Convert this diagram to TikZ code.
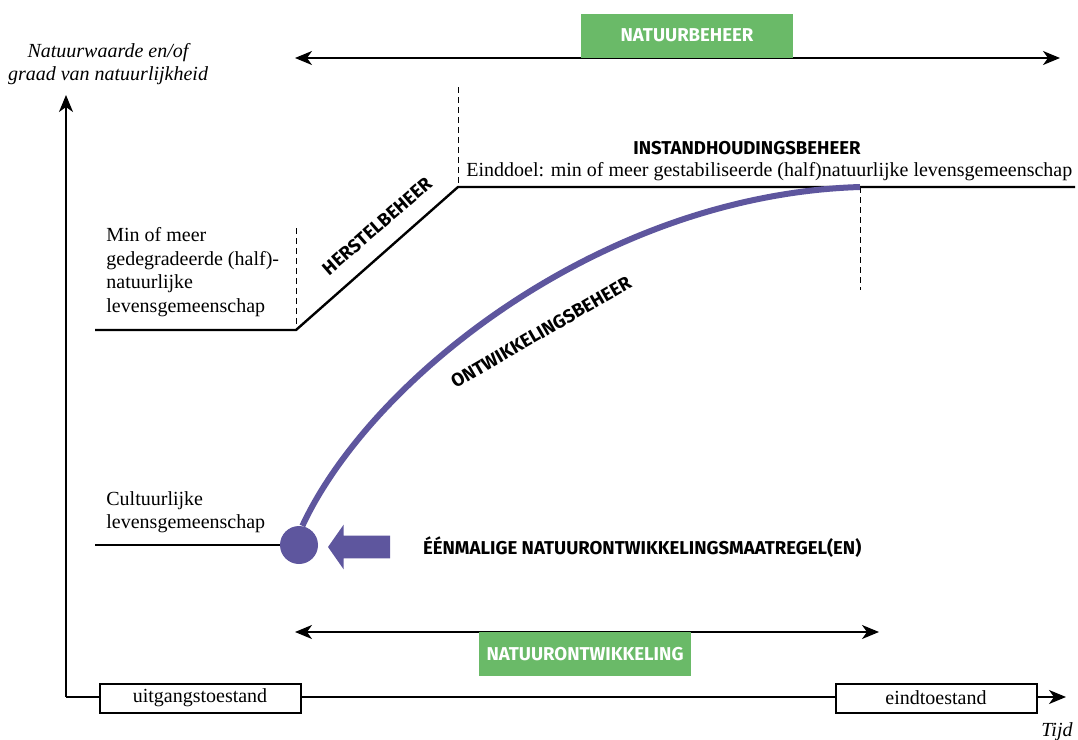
\documentclass[tikz,border=0pt]{standalone}
\usepackage{fontspec}
\setmainfont{Liberation Serif}
\newfontfamily\kopfont{Fira Sans}
\usetikzlibrary{arrows.meta,shapes.arrows,positioning}

\definecolor{paars}{RGB}{94,86,158}
\definecolor{groen}{RGB}{106,186,104}

\begin{document}
\begin{tikzpicture}[x=0.5pt,y=-0.5pt,>={Stealth[length=8.5pt,width=7pt,inset=2.5pt]},
        font=\fontsize{10}{11.75}\selectfont,
        fase/.style={font=\kopfont\bfseries\fontsize{9.3}{10}\selectfont},
        groenvak/.style={fill=groen,text=white,inner sep=0pt,minimum width=106pt,minimum height=22pt,font=\kopfont\bfseries\fontsize{9.3}{10}\selectfont},
        toestand/.style={draw,line width=1pt,fill=white,inner sep=0pt,minimum width=100.5pt,minimum height=14.5pt},
        staat/.style={align=left,anchor=west,inner sep=0pt},
        as/.style={line width=0.8pt},
        profiel/.style={line width=1.2pt},
        hulplijn/.style={line width=0.5pt,dash pattern=on 3pt off 2pt}]
        \useasboundingbox (0,0) rectangle (1078,740);

        % assen
        \coordinate (O) at (66,697);
        \coordinate (ytop) at (66,95);
        \coordinate (xend) at (1066,697);
        \node[align=center,font=\itshape\fontsize{10}{11.5}\selectfont] (ylabel) at (108,64) {Natuurwaarde en/of\\graad van natuurlijkheid};
        \node[font=\itshape] (tijd) at (1057,732) {Tijd};
        \path[as,->] (O) edge (ytop)
                     (O) edge (xend);
        \node[toestand] (uitgang) at (200,698) {uitgangstoestand};
        \node[toestand] (eind)    at (936,698) {eindtoestand};

        % natuurbeheer en natuurontwikkeling
        \coordinate (nb-l) at (295,58);
        \coordinate (nb-r) at (1060,58);
        \coordinate (no-l) at (295,632);
        \coordinate (no-r) at (879,632);
        \path[as,<->] (nb-l) edge (nb-r)
                      (no-l) edge (no-r);
        \node[groenvak,anchor=south] (beheer) at (687,58) {NATUURBEHEER};
        \node[groenvak,anchor=north] (ontw)   at (585,632) {NATUURONTWIKKELING};

        % profielen
        \coordinate (deg-l) at (95,330);
        \coordinate (deg-r) at (296,330);
        \coordinate (doel-l) at (458,187);
        \coordinate (doel-r) at (1075,187);
        \coordinate (doel) at (860,187);
        \draw[profiel] (deg-l) -- (deg-r) -- (doel-l) -- (doel-r);
        \draw[hulplijn] (296,228) -- (deg-r);
        \draw[hulplijn] (458,87) -- (doel-l);
        \draw[hulplijn] (doel) -- (860,290);

        \node[staat] (gedegradeerd) at (106,272) {Min of meer\\gedegradeerde (half)-\\natuurlijke\\levensgemeenschap};
        \node[staat] (cultuur) at (106,512) {Cultuurlijke\\levensgemeenschap};
        \node[staat] (einddoel) at (466,172) {Einddoel: min of meer gestabiliseerde (half)natuurlijke levensgemeenschap};
        \node[fase] (instand) at (747,148) {INSTANDHOUDINGSBEHEER};
        \node[fase,rotate=41] (herstel) at (377,226) {HERSTELBEHEER};
        \node[fase,rotate=30] (ontwbeheer) at (541,332) {ONTWIKKELINGSBEHEER};

        % ontwikkeling
        \node[circle,fill=paars,inner sep=0pt,minimum size=19pt] (start) at (299,545) {};
        \coordinate (cult-l) at (95,545);
        \draw[profiel] (cult-l) -- (start);
        \draw[paars,line width=3pt] (start.80) .. controls (370,380) and (600,195) .. (doel);
        \node[single arrow,fill=paars,shape border rotate=180,inner xsep=0pt,inner ysep=5.5pt,minimum height=31pt,
              single arrow head extend=5.5pt,single arrow tip angle=110] (ingreep) at (363,547) {};
        \node[fase,anchor=west] (maatregel) at (416,547) {ÉÉNMALIGE NATUURONTWIKKELINGSMAATREGEL(EN)};
\end{tikzpicture}
\end{document}
